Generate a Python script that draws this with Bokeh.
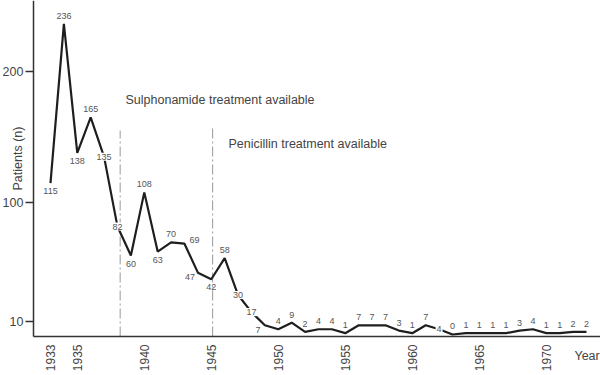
import math
from bokeh.plotting import figure
from bokeh.models import FixedTicker, Label, ColumnDataSource, Range1d
from bokeh.core.properties import value
from bokeh.embed import file_html
from bokeh.resources import INLINE

# ---- data ----
years = list(range(1933, 1974))
patients = [115, 236, 138, 165, 135, 82, 60, 108, 63, 70,
            69, 47, 42, 58, 30, 17, 7, 4, 9, 2,
            4, 4, 1, 7, 7, 7, 3, 1, 7, 4,
            0, 1, 1, 1, 1, 3, 4, 1, 1, 2, 2]
x_ticks = [1933, 1935, 1940, 1945, 1950, 1955, 1960, 1965, 1970]
y_ticks = [10, 100, 200]
event_years = [1938.2, 1945.1]
event_texts = ["Sulphonamide treatment available", "Penicillin treatment available"]

# ---- label placement (pixels) ----
n = len(years)
label_dx = [0] * n
label_dy = [-8] * n
inline = [False] * n
for i, d in {0: 8, 2: 8, 6: 8, 8: 8, 12: 8}.items():
    label_dy[i] = d
for i in (4, 5, 14, 15, 29):
    label_dy[i] = 0
    inline[i] = True
label_dx[10], label_dy[10] = 10, -4
label_dx[11], label_dy[11] = -8, 4
label_dx[16], label_dy[16] = -7, 5

FONT = "Liberation Sans"

X0, X1 = 1929.27, 1974.045    # frame = whole canvas
Y0, Y1 = -31.16, 253.8
YAXIS_AT = 1931.73            # where the y axis is drawn
XAXIS_AT = -1.52              # where the x axis is drawn

p = figure(width=600, height=375, output_backend="svg", toolbar_location=None,
           x_range=Range1d(X0, X1), y_range=Range1d(Y0, Y1),
           min_border_left=0, min_border_right=0, min_border_top=0,
           min_border_bottom=0)
p.outline_line_color = None
p.grid.visible = False
p.background_fill_color = "white"
p.border_fill_color = "white"

# axes
xa = p.xaxis[0]
xa.fixed_location = XAXIS_AT
xa.bounds = (YAXIS_AT, X1)
xa.ticker = FixedTicker(ticks=x_ticks)
xa.major_label_orientation = math.pi / 2
xa.major_tick_out = 0
xa.major_tick_in = 0
xa.minor_tick_out = 0
xa.minor_tick_in = 0
xa.major_label_standoff = 8
xa.axis_line_color = "#333333"
xa.axis_line_width = 1.5
xa.major_label_text_font = FONT
xa.major_label_text_font_size = "12px"
xa.major_label_text_color = "#444444"

ya = p.yaxis[0]
ya.fixed_location = YAXIS_AT
ya.bounds = (XAXIS_AT, Y1)
ya.ticker = FixedTicker(ticks=y_ticks)
ya.major_tick_out = 8
ya.major_tick_in = 0
ya.minor_tick_out = 0
ya.minor_tick_in = 0
ya.major_label_standoff = 2
ya.axis_line_color = "#333333"
ya.axis_line_width = 1.5
ya.major_tick_line_color = "#333333"
ya.major_tick_line_width = 1.5
ya.major_label_text_font = FONT
ya.major_label_text_font_size = "12.5px"
ya.major_label_text_color = "#444444"

# event lines
p.segment(x0=event_years, y0=[XAXIS_AT, XAXIS_AT], x1=event_years, y1=[155, 157],
          line_color="#999999", line_width=1, line_dash="10 3 2 3")

# main line
p.line(years, patients, line_color="#1e1e1e", line_width=2.2)

# data labels
src = ColumnDataSource(dict(
    x=years, y=patients, t=[str(v) for v in patients],
    dx=label_dx, dy=label_dy,
    bg=["white" if b else "rgba(255,255,255,0)" for b in inline],
))
p.text(x="x", y="y", text="t", x_offset="dx", y_offset="dy", source=src,
       text_font=value(FONT), text_font_size="9px", text_color="#555555",
       text_align="center", text_baseline="middle",
       background_fill_color="bg", padding=1)

# annotations
p.add_layout(Label(x=1938.6, y=178, text=event_texts[0], text_font=FONT,
                   text_font_size="12.5px", text_color="#444444",
                   text_align="left", text_baseline="middle"))
p.add_layout(Label(x=1946.28, y=144.7, text=event_texts[1], text_font=FONT,
                   text_font_size="12.5px", text_color="#444444",
                   text_align="left", text_baseline="middle"))
p.add_layout(Label(x=1930.61, y=133.7, text="Patients (n)", angle=math.pi / 2,
                   text_font=FONT, text_font_size="12.5px", text_color="#444444",
                   text_align="center", text_baseline="middle"))
p.add_layout(Label(x=1972.1, y=-16, text="Year", text_font=FONT,
                   text_font_size="12.5px", text_color="#444444",
                   text_align="left", text_baseline="middle"))

open("out.html", "w").write(file_html(p, INLINE))
